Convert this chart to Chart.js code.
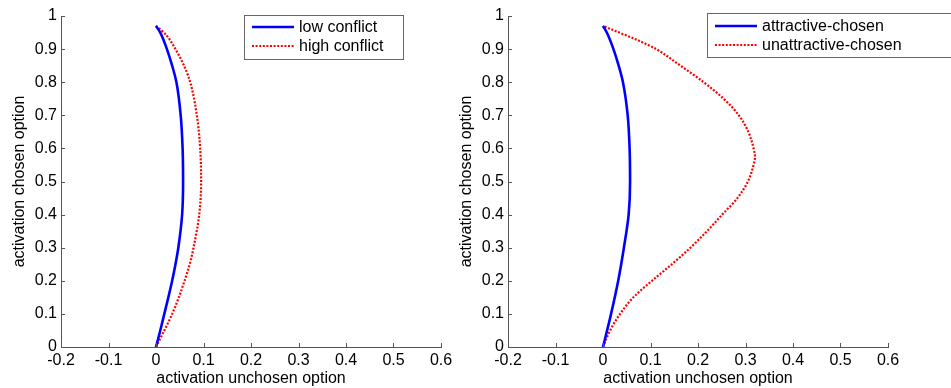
<!DOCTYPE html>
<html><head><meta charset="utf-8">
<script src="https://cdn.jsdelivr.net/npm/chart.js@4.4.1/dist/chart.umd.min.js"></script>
<style>
html,body{margin:0;padding:0;background:#fff;width:951px;height:388px;overflow:hidden;}
.c{position:absolute;top:0;}
#w1{left:0;width:475px;height:388px;}
#w2{left:450px;width:501px;height:388px;}
</style></head><body>
<div class="c" id="w1"><canvas id="c1"></canvas></div>
<div class="c" id="w2"><canvas id="c2"></canvas></div>
<script>
// ---- data ----
const xTickLabels = ['-0.2','-0.1','0','0.1','0.2','0.3','0.4','0.5','0.6'];
const yTickLabels = ['0','0.1','0.2','0.3','0.4','0.5','0.6','0.7','0.8','0.9','1'];
const xTitle = 'activation unchosen option';
const yTitle = 'activation chosen option';

const leftLabels = ['low conflict','high conflict'];
const lowConflictY  = [0, 0.05, 0.1, 0.15, 0.2, 0.25, 0.3, 0.4, 0.5, 0.6, 0.7, 0.8, 0.85, 0.9, 0.95, 0.97];
const lowConflictX  = [0, 0.009, 0.0175, 0.026, 0.034, 0.041, 0.047, 0.055, 0.057, 0.056, 0.052, 0.043, 0.034, 0.023, 0.009, 0];
const highConflictY = [0, 0.05, 0.1, 0.15, 0.2, 0.25, 0.3, 0.4, 0.5, 0.6, 0.7, 0.8, 0.85, 0.9, 0.94, 0.96, 0.97];
const highConflictX = [0, 0.0175, 0.034, 0.048, 0.060, 0.071, 0.079, 0.091, 0.095, 0.093, 0.086, 0.072, 0.059, 0.041, 0.023, 0.009, 0];

const rightLabels = ['attractive-chosen','unattractive-chosen'];
const attractiveY   = [0, 0.1, 0.2, 0.3, 0.4, 0.5, 0.6, 0.7, 0.8, 0.85, 0.9, 0.95, 0.97];
const attractiveX   = [0, 0.017, 0.032, 0.044, 0.054, 0.057, 0.056, 0.052, 0.042, 0.033, 0.022, 0.008, 0];
const unattractiveY = [0, 0.05, 0.1, 0.15, 0.2, 0.25, 0.3, 0.35, 0.4, 0.45, 0.5, 0.55, 0.575, 0.6, 0.65, 0.7, 0.75, 0.8, 0.85, 0.9, 0.925, 0.95, 0.97];
const unattractiveX = [0, 0.015, 0.036, 0.064, 0.103, 0.145, 0.184, 0.219, 0.251, 0.283, 0.305, 0.317, 0.320, 0.317, 0.306, 0.286, 0.254, 0.212, 0.163, 0.112, 0.076, 0.034, 0];

const pts = (xs, ys) => xs.map((x, i) => ({x: x, y: ys[i]}));
const FONT = 'Liberation Sans, Arial, sans-serif';
const FS = 16;

const innerTicks = {
  id: 'innerTicks',
  afterDraw(chart) {
    const {ctx, chartArea: a, scales: {x, y}} = chart;
    ctx.save();
    ctx.strokeStyle = '#555'; ctx.lineWidth = 1;
    ctx.beginPath();
    x.ticks.forEach(t => { const p = Math.round(x.getPixelForValue(t.value)) + 0.5; ctx.moveTo(p, a.bottom); ctx.lineTo(p, a.bottom - 4); });
    y.ticks.forEach(t => { const p = Math.round(y.getPixelForValue(t.value)) + 0.5; ctx.moveTo(a.left, p); ctx.lineTo(a.left + 4, p); });
    ctx.stroke();
    ctx.restore();
  }
};
const boxLegend = {
  id: 'boxLegend',
  afterDraw(chart, args, o) {
    const ctx = chart.ctx;
    ctx.save();
    ctx.fillStyle = '#fff';
    ctx.fillRect(o.x, o.y, o.w, o.h);
    ctx.strokeStyle = '#666'; ctx.lineWidth = 1;
    ctx.strokeRect(o.x + 0.5, o.y + 0.5, o.w, o.h);
    ctx.font = FS + 'px ' + FONT; ctx.fillStyle = '#000'; ctx.textBaseline = 'middle';
    chart.data.datasets.forEach((ds, i) => {
      const yy = o.y + o.rows[i];
      ctx.strokeStyle = ds.borderColor; ctx.lineWidth = ds.borderWidth;
      ctx.setLineDash(ds.borderDash || []);
      ctx.beginPath(); ctx.moveTo(o.x + 8, yy); ctx.lineTo(o.x + 50, yy); ctx.stroke();
      ctx.setLineDash([]);
      ctx.fillText(ds.label, o.x + 55, yy + 1);
    });
    ctx.restore();
  }
};

function makeChart(id, labels, s1, s2, yAxisW, rightPad, ytitlePad, legend) {
  const common = {showLine: true, pointRadius: 0, fill: false, indexAxis: 'y', cubicInterpolationMode: 'monotone', clip: false};
  return new Chart(document.getElementById(id), {
    type: 'scatter',
    data: { datasets: [
      Object.assign({label: labels[0], data: s1, borderColor: '#0000ff', borderWidth: 2.6}, common),
      Object.assign({label: labels[1], data: s2, borderColor: '#ff0000', borderWidth: 2.2, borderDash: [2, 1.6]}, common)
    ]},
    options: {
      responsive: true, maintainAspectRatio: false, animation: false,
      layout: {padding: {left: 0, right: rightPad, top: 16, bottom: 0}},
      plugins: {legend: {display: false}, tooltip: {enabled: false}, boxLegend: legend},
      scales: {
        x: {
          type: 'linear', min: -0.2, max: 0.6,
          afterFit: s => { s.height = 41; },
          border: {display: true, color: '#555'},
          grid: {drawOnChartArea: false, drawTicks: false},
          ticks: {stepSize: 0.1, padding: 4, color: '#000', font: {family: FONT, size: FS}, maxRotation: 0,
                  callback: (v, i) => xTickLabels[i]},
          title: {display: true, text: xTitle, color: '#000', font: {family: FONT, size: FS}, padding: {top: 0, bottom: 0}}
        },
        y: {
          type: 'linear', min: 0, max: 1,
          afterFit: s => { s.width = yAxisW; },
          border: {display: true, color: '#555'},
          grid: {drawOnChartArea: false, drawTicks: false},
          ticks: {stepSize: 0.1, padding: 4, color: '#000', font: {family: FONT, size: FS},
                  callback: (v, i) => yTickLabels[i]},
          title: {display: true, text: yTitle, color: '#000', font: {family: FONT, size: FS}, padding: {top: ytitlePad, bottom: 0}}
        }
      }
    },
    plugins: [innerTicks, boxLegend]
  });
}

makeChart('c1', leftLabels, pts(lowConflictX, lowConflictY), pts(highConflictX, highConflictY),
  61, 34, 10, {x: 244, y: 15, w: 159, h: 44, rows: [12, 31]});
makeChart('c2', rightLabels, pts(attractiveX, attractiveY), pts(unattractiveX, unattractiveY),
  58, 63, 7, {x: 257, y: 13, w: 260, h: 44, rows: [13, 32]});
</script>
</body></html>
